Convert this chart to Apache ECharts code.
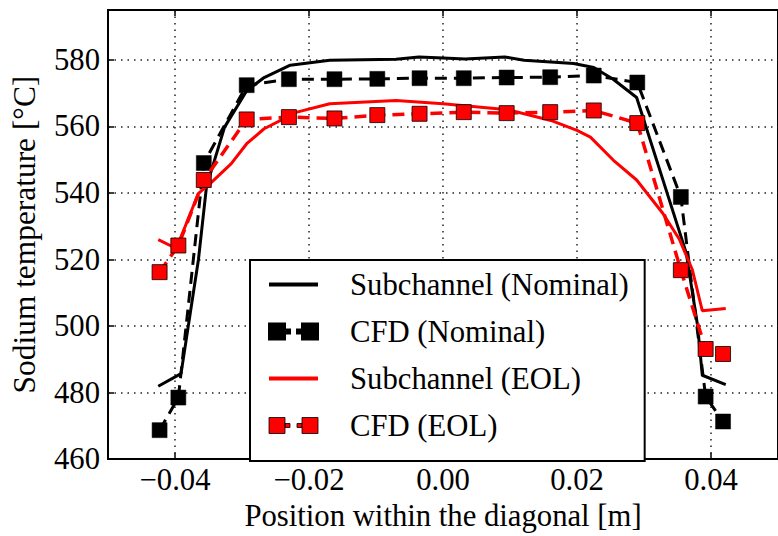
<!DOCTYPE html>
<html>
<head>
<meta charset="utf-8">
<script src="https://cdn.jsdelivr.net/npm/echarts@6/dist/echarts.min.js"></script>
<style>html,body{margin:0;padding:0;background:#fff}#c{width:778px;height:536px}</style>
</head>
<body>
<div id="c"></div>
<script>
// ---- data ----
const xTicks = [-0.04, -0.02, 0.00, 0.02, 0.04];
const xTickLabels = ['\u22120.04', '\u22120.02', '0.00', '0.02', '0.04'];
const yTicks = [460, 480, 500, 520, 540, 560, 580];

const xSubNominal = [-0.0425, -0.0391, -0.0365, -0.0353, -0.0326, -0.0293, -0.0267, -0.0228, -0.0169, -0.0070, -0.0036, 0.0000, 0.0033, 0.0092, 0.0121, 0.0195, 0.0225, 0.0254, 0.0289, 0.0363, 0.0380, 0.0387, 0.0422];
const ySubNominal = [481.9, 485.7, 520.0, 541.9, 559.8, 570.7, 574.7, 578.4, 579.9, 580.2, 580.9, 580.6, 580.3, 580.9, 579.9, 578.9, 577.7, 574.2, 568.7, 522.0, 500.1, 485.2, 482.4];

const xCfd = [-0.0423, -0.0395, -0.0357, -0.0293, -0.0230, -0.0162, -0.0098, -0.0035, 0.0031, 0.0095, 0.0160, 0.0225, 0.0290, 0.0355, 0.0392, 0.0418];
const yCfdNominal = [468.7, 478.5, 549.0, 572.4, 574.2, 574.2, 574.3, 574.5, 574.5, 574.7, 574.8, 575.3, 573.2, 538.8, 478.8, 471.3];
const yCfdEol = [516.2, 524.2, 543.9, 562.1, 562.8, 562.4, 563.4, 563.8, 564.3, 564.0, 564.3, 564.8, 561.0, 516.8, 493.1, 491.6];

const xSubEol = [-0.0425, -0.0398, -0.0365, -0.0346, -0.0316, -0.0293, -0.0267, -0.0218, -0.0169, -0.0070, 0.0000, 0.0097, 0.0161, 0.0200, 0.0220, 0.0254, 0.0289, 0.0328, 0.0353, 0.0372, 0.0387, 0.0422];
const ySubEol = [526.0, 523.3, 539.9, 543.1, 548.8, 554.8, 559.3, 564.3, 566.8, 567.8, 566.8, 565.0, 561.8, 558.8, 556.8, 549.9, 543.9, 533.9, 526.0, 517.0, 504.6, 505.3];

const seriesNames = ['Subchannel (Nominal)', 'CFD (Nominal)', 'Subchannel (EOL)', 'CFD (EOL)'];

function zip(xs, ys) { return xs.map((x, i) => [x, ys[i]]); }

const FONT = "'Liberation Serif', 'Times New Roman', serif";
const FS = 30.7;
const chart = echarts.init(document.getElementById('c'), null, { renderer: 'svg' });

const lineIcon = 'path://M0,6H48V10H0Z';
const cfdIcon = 'path://M0,0H16V16H0Z M16,6H21V10H16Z M28,6H33V10H28Z M33,0H49V16H33Z';

const xLabelFmt = v => {
  const i = xTicks.findIndex(t => Math.abs(t - v) < 1e-9);
  return i >= 0 ? xTickLabels[i] : '';
};

chart.setOption({
  animation: false,
  backgroundColor: '#fff',
  textStyle: { fontFamily: FONT },
  grid: { left: 108, top: 10, right: -8, bottom: 75, show: true, borderColor: '#000', borderWidth: 2, backgroundColor: 'transparent' },
  legend: {
    orient: 'vertical',
    left: 250, top: 260,
    padding: [9, 16, 20, 18],
    itemWidth: 49, itemHeight: 16,
    itemGap: 16,
    backgroundColor: '#fff',
    borderColor: '#000', borderWidth: 2,
    textStyle: { fontFamily: FONT, fontSize: FS, lineHeight: 28, color: '#000', padding: [0, 0, 0, 27] },
    data: [
      { name: seriesNames[0], icon: lineIcon, itemStyle: { color: '#000' } },
      { name: seriesNames[1], icon: cfdIcon, itemStyle: { color: '#000' } },
      { name: seriesNames[2], icon: lineIcon, itemStyle: { color: '#ff0000' } },
      { name: seriesNames[3], icon: cfdIcon, itemStyle: { color: '#ff0000', borderColor: '#000', borderWidth: 0.8 } }
    ]
  },
  xAxis: [{
    type: 'value', min: -0.05, max: 0.05,
    name: 'Position within the diagonal [m]', nameLocation: 'middle', nameGap: 26,
    nameTextStyle: { fontFamily: FONT, fontSize: FS, color: '#000' },
    axisLine: { show: true, onZero: false, lineStyle: { color: '#000', width: 2 } },
    axisTick: { show: true, inside: true, length: 6, customValues: xTicks, lineStyle: { color: '#000', width: 1.5 } },
    axisLabel: { fontFamily: FONT, fontSize: FS, color: '#000', margin: 5, customValues: xTicks, formatter: xLabelFmt },
    splitLine: { show: true, lineStyle: { color: '#222', width: 1.5, type: [1.5, 5] } }
  }, {
    type: 'value', position: 'top', min: -0.05, max: 0.05,
    axisLine: { show: true, onZero: false, lineStyle: { color: '#000', width: 2 } },
    axisTick: { show: true, inside: true, length: 6, customValues: xTicks, lineStyle: { color: '#000', width: 1.5 } },
    axisLabel: { show: false }, splitLine: { show: false }
  }],
  yAxis: [{
    type: 'value', min: 460, max: 595,
    name: 'Sodium temperature [\u00b0C]', nameLocation: 'middle', nameGap: 68,
    nameTextStyle: { fontFamily: FONT, fontSize: 31.4, color: '#000' },
    axisLine: { show: true, onZero: false, lineStyle: { color: '#000', width: 2 } },
    axisTick: { show: true, inside: true, length: 6, customValues: yTicks, lineStyle: { color: '#000', width: 1.5 } },
    axisLabel: { fontFamily: FONT, fontSize: FS, color: '#000', margin: 8, customValues: yTicks },
    splitLine: { show: true, lineStyle: { color: '#222', width: 1.5, type: [1.5, 5] } }
  }],
  series: [
    {
      name: seriesNames[0], type: 'line', data: zip(xSubNominal, ySubNominal),
      showSymbol: false, symbol: 'none', smooth: false,
      lineStyle: { color: '#000', width: 3 }, itemStyle: { color: '#000' }, z: 2
    },
    {
      name: seriesNames[1], type: 'line', data: zip(xCfd, yCfdNominal),
      symbol: 'rect', symbolSize: 15, showSymbol: true,
      lineStyle: { color: '#000', width: 3, type: [12, 7] },
      itemStyle: { color: '#000', borderColor: '#000', borderWidth: 0.5 }, z: 3
    },
    {
      name: seriesNames[2], type: 'line', data: zip(xSubEol, ySubEol),
      showSymbol: false, symbol: 'none',
      lineStyle: { color: '#ff0000', width: 3 }, itemStyle: { color: '#ff0000' }, z: 4
    },
    {
      name: seriesNames[3], type: 'line', data: zip(xCfd, yCfdEol),
      symbol: 'rect', symbolSize: 15, showSymbol: true,
      lineStyle: { color: '#ff0000', width: 3.5, type: [12, 7] },
      itemStyle: { color: '#ff0000', borderColor: '#000', borderWidth: 0.8 }, z: 5
    }
  ]
});
</script>
</body>
</html>
